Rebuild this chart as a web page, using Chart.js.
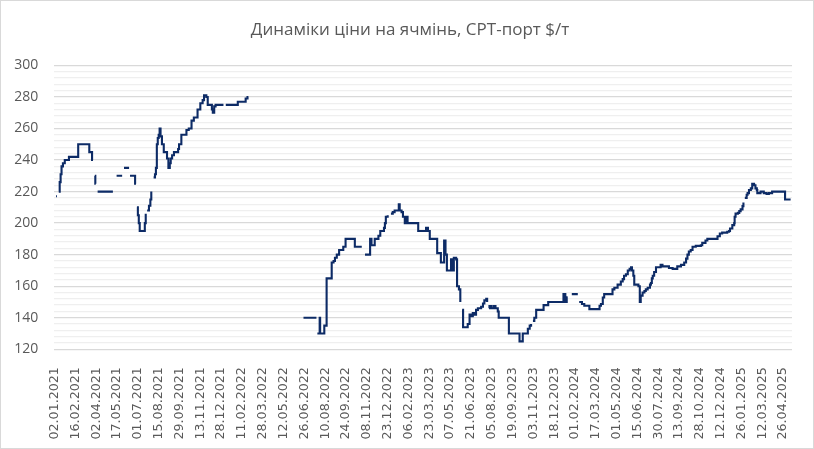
<!DOCTYPE html>
<html>
<head>
<meta charset="utf-8">
<script src="https://cdn.jsdelivr.net/npm/chart.js@4/dist/chart.umd.min.js"></script>
<style>
  html, body { margin: 0; padding: 0; background: #ffffff; }
  #wrap { position: relative; width: 814px; height: 449px; }
  #wrap canvas { position: absolute; left: 0; top: 0; }
  #priceChart { outline: 1px solid #d9d9d9; outline-offset: -1px; }
</style>
</head>
<body>
<div id="wrap">
  <canvas id="gridChart" width="814" height="449"></canvas>
  <canvas id="priceChart" width="814" height="449"></canvas>
</div>
<script>
// Підписи осі X (кожні 45 днів від 02.01.2021)
const tickLabels = [
  '02.01.2021', '16.02.2021', '02.04.2021', '17.05.2021', '01.07.2021', '15.08.2021',
  '29.09.2021', '13.11.2021', '28.12.2021', '11.02.2022', '28.03.2022', '12.05.2022',
  '26.06.2022', '10.08.2022', '24.09.2022', '08.11.2022', '23.12.2022', '06.02.2023',
  '23.03.2023', '07.05.2023', '21.06.2023', '05.08.2023', '19.09.2023', '03.11.2023',
  '18.12.2023', '01.02.2024', '17.03.2024', '01.05.2024', '15.06.2024', '30.07.2024',
  '13.09.2024', '28.10.2024', '12.12.2024', '26.01.2025', '12.03.2025', '26.04.2025'
];
const tickStep = 45;

// День від 02.01.2021 та ціна, $/т (null = пропуск у даних)
const days = [
  3, 5, 6,
  9, 11, 13, 15, 18, 22, 31, 51, 75, 81, 83, 84,
  87, 88, 89, 90,
  93, 126, 127,
  134, 146, 147, 150, 161, 162, 163, 172, 174, 176, 177,
  178, 180, 182, 184, 195, 197, 198,
  200, 204, 207, 209, 210,
  214, 217, 219, 221, 223, 225, 227, 229, 232, 236, 240, 243, 246, 249, 251, 254, 258,
  267, 269, 274, 285, 290, 296, 301, 309, 315, 320, 323, 326, 328, 331, 340, 342, 345, 348, 365, 366,
  370, 395, 396, 412, 413, 417, 419, 420,
  538, 566, 567,
  568, 572, 573, 574, 582, 583, 587, 588, 597, 599, 603, 606, 610, 615, 624, 629, 646, 649, 664, 665,
  671, 678, 682, 685, 689, 692, 697, 700, 704, 709, 712, 714, 716, 720, 721,
  727, 731, 735, 743, 744, 746, 750, 753, 757, 760, 763, 782, 786, 800, 803, 807, 811, 825, 827, 833,
  835, 840, 842, 845, 848, 854, 857, 861, 863, 868, 870, 874, 877, 879,
  881, 883, 890, 893, 897, 900, 904, 908, 911, 915, 922, 926, 929, 933, 935, 936,
  939, 940, 944, 949, 953, 958, 960, 980, 982, 1004, 1005, 1010, 1012, 1020, 1023, 1027, 1030, 1031,
  1034, 1037, 1041, 1055, 1057, 1066, 1067, 1098, 1100, 1102, 1104, 1106, 1107, 1109, 1110,
  1118, 1131, 1132,
  1134, 1138, 1140, 1145, 1152, 1156, 1174, 1178, 1181, 1185, 1188, 1203, 1206, 1210, 1217, 1224,
  1228, 1231, 1235, 1239, 1243, 1246, 1248, 1251, 1253, 1262, 1265, 1267, 1271, 1275, 1278, 1282,
  1287, 1289, 1291, 1293, 1296, 1300, 1310, 1314, 1328, 1336, 1346, 1354, 1361, 1365, 1368, 1371,
  1375, 1379, 1386, 1397, 1400, 1407, 1411, 1429, 1433, 1438, 1443, 1454, 1458, 1460, 1465, 1469,
  1470, 1472, 1477, 1480, 1483, 1487, 1489, 1490,
  1492, 1496, 1498, 1501, 1505, 1508, 1512, 1515, 1518, 1519, 1526, 1533, 1539, 1544, 1551, 1577,
  1579, 1591
];
const prices = [
  217, 217, null,
  220, 226, 231, 236, 238, 240, 242, 250, 245, 240, 240, null,
  230, 225, 225, null,
  220, 220, null,
  230, 230, null, 235, 235, null, 230, 230, 225, 225, null,
  210, 205, 200, 195, 200, 206, null,
  208, 211, 215, 220, null,
  229, 231, 235, 250, 254, 256, 260, 255, 250, 245, 245, 241, 235, 238, 241, 243, 245,
  247, 250, 256, 259, 260, 265, 267, 272, 276, 278, 281, 281, 280, 275, 272, 270, 274, 275, 275, null,
  275, 275, 277, 277, 279, 280, 280, null,
  140, 140, null,
  130, 130, 140, 130, 130, 135, 135, 165, 165, 175, 176, 178, 180, 183, 185, 190, 190, 185, 185, null,
  180, 180, 190, 186, 186, 190, 190, 192, 195, 195, 197, 200, 204, 205, null,
  206, 207, 208, 208, 212, 208, 207, 204, 200, 204, 200, 200, 195, 195, 197, 195, 190, 190, 181, 181,
  175, 175, 189, 180, 170, 170, 177, 170, 178, 177, 160, 158, 150, null,
  145, 134, 134, 136, 142, 141, 143, 142, 145, 146, 147, 149, 151, 152, 150, null,
  146, 147.5, 146, 147.5, 146, 144, 140, 140, 130, 130, 125, 125, 130, 130, 133, 135, 136, null,
  138, 140, 145, 145, 148, 148, 150, 150, 155, 155, 150, 150, 153, 153, null,
  155, 155, null,
  150, 150, 148.7, 147.6, 147.6, 145.5, 145.5, 147.6, 148.7, 152.8, 155, 155, 158, 159, 161, 163,
  164.5, 166.6, 167.6, 170, 171, 172, 170, 166.6, 161, 160, 150, 154, 156, 157, 158, 159,
  161, 162, 165, 166.6, 169, 172, 173.5, 172.6, 171.5, 171, 172.6, 173.5, 175, 177.5, 180, 182,
  183, 185, 185.6, 186, 187.5, 189, 190, 190, 191.7, 193.4, 194, 194.5, 195, 196.6, 198.7, 200,
  204, 206, 206.5, 207.6, 208.7, 210.8, 213, null,
  216, 218, 219, 221, 222, 225, 224, 222, 221, 219, 220, 219, 218.5, 219, 220, 220,
  215, 215
];

// Лінії сітки кожні 4 одиниці, підписи кожні 20
const yMin = 120, yMax = 300, yMinorStep = 4, yLabelStep = 20;

const points = days.map((d, i) => ({ x: d, y: prices[i] }));
const textColor = '#595959';

// Спільні налаштування: нижній графік малює лише сітку, верхній — лінію й підписи
function makeOptions(gridOnly) {
    const txt = gridOnly ? 'rgba(0,0,0,0)' : textColor;
    return {
        responsive: false,
        animation: false,
        layout: { padding: { left: 6, right: 0, top: 0, bottom: 0 } },
        plugins: {
            legend: { display: false },
            tooltip: { enabled: false },
            title: {
                display: true,
                text: 'Динаміки ціни на ячмінь, CPT-порт $/т',
                color: txt,
                font: { family: '"Open Sans", "Noto Sans", sans-serif', size: 17, weight: 'normal', lineHeight: 1.2 },
                padding: { top: 20, bottom: 25 }
            }
        },
        scales: {
            x: {
                type: 'linear',
                min: -1.3,
                max: 1594,
                grid: { display: false },
                border: { display: false },
                afterBuildTicks: (scale) => {
                    scale.ticks = tickLabels.map((_, i) => ({ value: i * tickStep }));
                },
                afterFit: (scale) => { scale.height = 99.7; },
                ticks: {
                    autoSkip: false,
                    minRotation: 90,
                    maxRotation: 90,
                    padding: 10,
                    color: txt,
                    font: { family: '"DejaVu Sans", sans-serif', size: 12.6 },
                    callback: (value, index) => tickLabels[index]
                }
            },
            y: {
                type: 'linear',
                min: yMin,
                max: yMax,
                border: { display: false },
                afterBuildTicks: (scale) => {
                    const t = [];
                    for (let v = yMin; v <= yMax; v += yMinorStep) t.push({ value: v });
                    scale.ticks = t;
                },
                afterFit: (scale) => { scale.width = 48; },
                grid: {
                    display: gridOnly,
                    drawTicks: false,
                    lineWidth: 1.3,
                    color: (ctx) => (ctx.tick && ctx.tick.value % yLabelStep === 0) ? '#d9d9d9' : '#efefef'
                },
                ticks: {
                    autoSkip: false,
                    padding: 15.7,
                    color: txt,
                    font: { family: '"Open Sans", "Noto Sans", sans-serif', size: 14 },
                    callback: (value) => value % yLabelStep === 0 ? value : ''
                }
            },
            yRight: {
                type: 'linear',
                position: 'right',
                grid: { display: false },
                border: { display: false },
                ticks: { display: false },
                afterFit: (scale) => { scale.width = 22; }
            }
        }
    };
}

// сітка
new Chart(document.getElementById('gridChart'), {
    type: 'line',
    data: { datasets: [] },
    options: makeOptions(true)
});

// ціна
new Chart(document.getElementById('priceChart'), {
    type: 'line',
    data: {
        datasets: [{
            data: points,
            borderColor: '#0d2b66',
            borderWidth: 2.1,
            pointRadius: 0,
            stepped: true,
            spanGaps: false,
            fill: false
        }]
    },
    options: makeOptions(false)
});
</script>
</body>
</html>
